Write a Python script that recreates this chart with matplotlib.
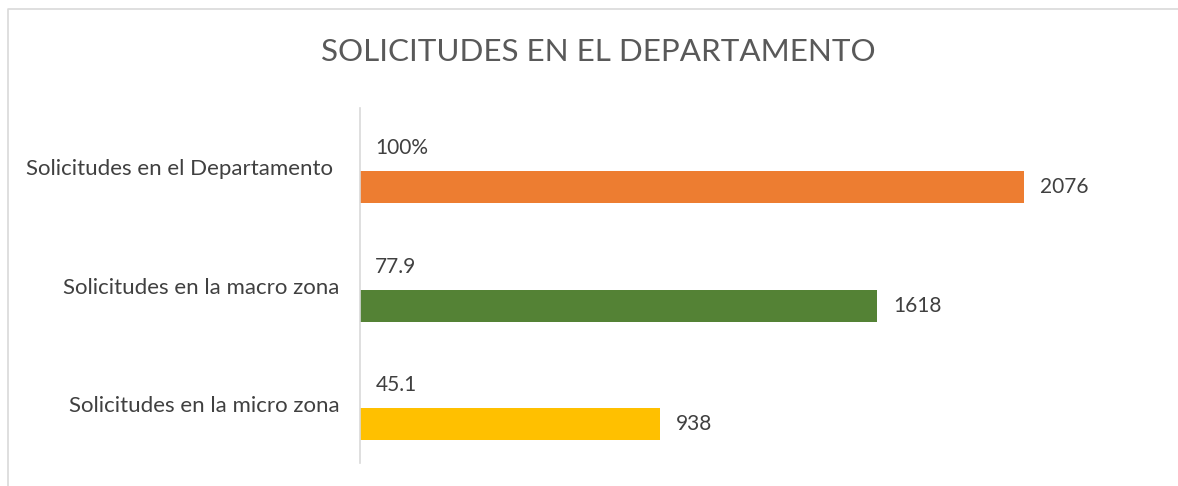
import matplotlib.pyplot as plt
from matplotlib.lines import Line2D

plt.rcParams['font.family'] = ['Lato', 'DejaVu Sans']

categorias = ['Solicitudes en el Departamento ', 'Solicitudes en la macro zona', 'Solicitudes en la micro zona']
solicitudes = [2076, 1618, 938]
porcentajes = ['100%', '77.9', '45.1']
colores = ['#ED7D31', '#548235', '#FFC000']

texto = '#404040'

fig = plt.figure(figsize=(11.78, 4.86), dpi=100)
W, H = 1178, 486

# marco gris del gráfico (solo se ve arriba y a la izquierda)
fig.lines.append(Line2D([8 / W, 8 / W, 1.0], [0.0, 1 - 9 / H, 1 - 9 / H], transform=fig.transFigure,
                        color='#D9D9D9', linewidth=1.2))

ax = fig.add_axes([360 / W, 1 - 463 / H, (1150 - 360) / W, (463 - 108) / H])

y = list(range(len(categorias)))
ax.barh([i + 0.17 for i in y], solicitudes, height=0.27, color=colores)

for i, (v, p) in enumerate(zip(solicitudes, porcentajes)):
    ax.text(v + 50, i + 0.17, str(v), va='center', ha='left', fontsize=15, color=texto)
    ax.text(48, i - 0.16, p, va='center', ha='left', fontsize=15, color=texto)

ax.set_xlim(0, 2470)
ax.set_ylim(2.5, -0.5)
ax.set_yticks(y)
ax.set_yticklabels(categorias, fontsize=16, color=texto)
ax.tick_params(axis='y', length=0, pad=15)
ax.set_xticks([])
for s in ['top', 'right', 'bottom']:
    ax.spines[s].set_visible(False)
ax.spines['left'].set_color('#D9D9D9')
ax.spines['left'].set_linewidth(1.2)

fig.text(598 / W, 1 - 52 / H, 'SOLICITUDES EN EL DEPARTAMENTO', ha='center', va='center',
         fontsize=22.6, color='#595959')

fig.savefig('out.png', dpi=100)
